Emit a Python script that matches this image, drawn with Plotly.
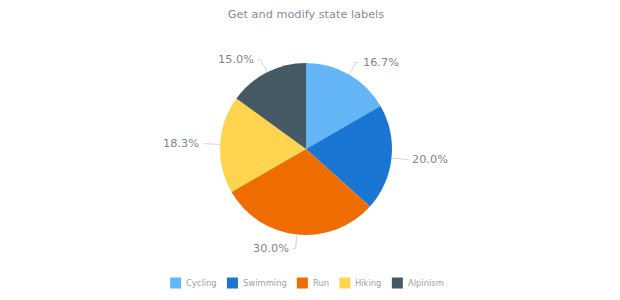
import math
import plotly.graph_objects as go

categories = ["Cycling", "Swimming", "Run", "Hiking", "Alpinism"]
values = [10, 12, 18, 11, 9]
colors = ["#64b5f6", "#1976d2", "#ef6c00", "#ffd54f", "#455a64"]

W, H = 620, 300
CX, CY, R = 306, 149, 86  # pie centre and radius, px
GRAY = "#7c868e"
LEG_GRAY = "#9ba1a7"
FONT = "DejaVu Sans"

fig = go.Figure(go.Pie(
    labels=categories, values=values, sort=False, direction="clockwise", rotation=0,
    marker=dict(colors=colors, line=dict(width=0)),
    textinfo="none", hoverinfo="label+percent", showlegend=False,
    domain=dict(x=[(CX - R) / W, (CX + R) / W], y=[1 - (CY + R) / H, 1 - (CY - R) / H]),
))

total = sum(values)
cum = 0
shapes, annotations = [], []
LR = R + 14
for v in values:
    mid = (cum + v / 2) / total * 2 * math.pi
    cum += v
    s, c = math.sin(mid), math.cos(mid)
    x0, y0 = CX + R * s, CY - R * c
    x1, y1 = CX + LR * s, CY - LR * c
    right = s >= 0
    x2 = x1 + (3 if right else -3)
    for (ax, ay, bx, by) in [(x0, y0, x1, y1), (x1, y1, x2, y1)]:
        shapes.append(dict(type="line", xref="paper", yref="paper",
                           x0=ax / W, y0=1 - ay / H, x1=bx / W, y1=1 - by / H,
                           line=dict(color="#d3d7db", width=1)))
    annotations.append(dict(xref="paper", yref="paper", x=x1 / W, y=1 - y1 / H,
                            text=f"{v / total * 100:.1f}%", showarrow=False,
                            xanchor="left" if right else "right", yanchor="middle",
                            xshift=5 if right else -5,
                            font=dict(size=11.3, color=GRAY, family=FONT)))

# custom compact legend (DejaVu Sans advance widths, em)
CW = {"C": .698, "y": .592, "c": .550, "l": .278, "i": .278, "n": .634, "g": .635,
      "S": .635, "w": .818, "m": .974, "R": .695, "u": .634, "H": .752, "k": .579,
      "A": .684, "p": .635, "s": .521}
LFS = 8.4
SW, GAP1, GAP2 = 11, 4, 11
widths = [sum(CW.get(ch, .6) for ch in name) * LFS for name in categories]
total_w = sum(SW + GAP1 + w for w in widths) + GAP2 * (len(widths) - 1)
x = CX + 0.5 - total_w / 2
LY = 283
for name, col, w in zip(categories, colors, widths):
    shapes.append(dict(type="rect", xref="paper", yref="paper",
                       x0=x / W, x1=(x + SW) / W, y0=1 - (LY + SW / 2) / H, y1=1 - (LY - SW / 2) / H,
                       fillcolor=col, line=dict(width=0)))
    annotations.append(dict(xref="paper", yref="paper", x=(x + SW + GAP1) / W, y=1 - LY / H,
                            text=name, showarrow=False, xanchor="left", yanchor="middle",
                            xshift=-1, font=dict(size=LFS, color=LEG_GRAY, family=FONT)))
    x += SW + GAP1 + w + GAP2

fig.update_layout(
    width=W, height=H, margin=dict(l=0, r=0, t=0, b=0),
    paper_bgcolor="white", plot_bgcolor="white",
    title=dict(text="Get and modify state labels", x=CX / W, xanchor="center", y=1 - 14 / H, yanchor="middle",
               font=dict(size=11.3, color="#858e96", family=FONT)),
    font=dict(family=FONT, color=GRAY),
    showlegend=False,
    shapes=shapes, annotations=annotations,
)

fig.write_html("out.html")
